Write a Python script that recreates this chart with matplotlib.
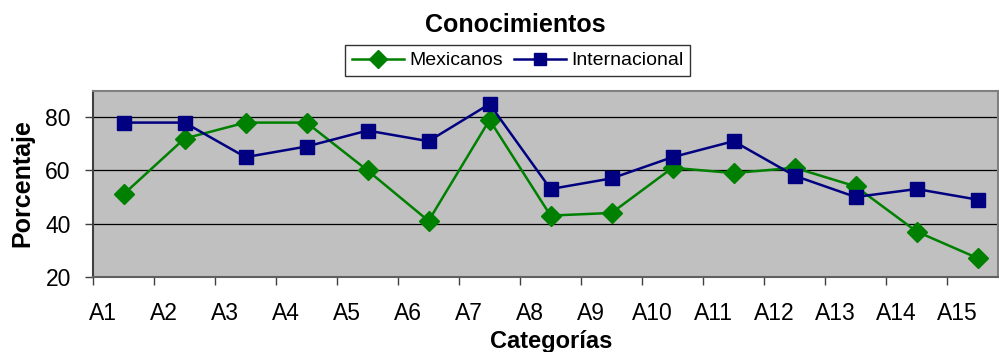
import numpy as np
import matplotlib.pyplot as plt

plt.rcParams['font.family'] = ['Liberation Sans', 'DejaVu Sans']

categorias = ['A1', 'A2', 'A3', 'A4', 'A5', 'A6', 'A7', 'A8', 'A9', 'A10',
              'A11', 'A12', 'A13', 'A14', 'A15']
mexicanos = [51, 72, 78, 78, 60, 41, 79, 43, 44, 61, 59, 61, 54, 37, 27]
internacional = [78, 78, 65, 69, 75, 71, 85, 53, 57, 65, 71, 58, 50, 53, 49]

x = np.arange(len(categorias))

fig = plt.figure(figsize=(9.99, 3.52), dpi=100)
ax = fig.add_axes([0.0931, 0.2139, 0.906, 0.5284])
ax.set_facecolor('#C0C0C0')

l1, = ax.plot(x, mexicanos, color='#008000', lw=1.8, marker='D', ms=10,
              markeredgecolor='#008000', label='Mexicanos', zorder=3)
l2, = ax.plot(x, internacional, color='#000080', lw=1.8, marker='s', ms=10,
              markeredgecolor='#000080', label='Internacional', zorder=3)

ax.set_ylim(20, 90)
ax.set_xlim(-0.5, -0.5 + 905 / 61)
ax.set_yticks([20, 40, 60, 80])
for v in [40, 60, 80]:
    ax.axhline(v, color='black', lw=0.9, zorder=1)

# marcas en los limites de categoria, etiquetas desplazadas
ax.set_xticks(x - 0.5)
ax.set_xticklabels([])
ax.set_xticks(x - 0.5 + 10 / 61, minor=True)
ax.set_xticklabels(categorias, minor=True)
ax.tick_params(axis='x', which='major', length=6, width=1, color='#404040')
ax.tick_params(axis='x', which='minor', length=0, pad=18, labelsize=16.5)
ax.tick_params(axis='y', length=6, width=1, color='#404040', pad=10,
               labelsize=16.5)

for s in ['top', 'right']:
    ax.spines[s].set_color('#808080')
    ax.spines[s].set_linewidth(1.5)
ax.spines['left'].set_color('#404040')
ax.spines['bottom'].set_color('#606060')
ax.spines['left'].set_linewidth(1.5)
ax.spines['bottom'].set_linewidth(1.5)

fig.text(0.516, 0.928, 'Conocimientos', ha='center', va='center',
         fontsize=18, fontweight='bold')
fig.text(0.022, 0.48, 'Porcentaje', ha='center', va='center', rotation=90,
         fontsize=18, fontweight='bold')
fig.text(0.552, 0.03, 'Categorías', ha='center', va='center',
         fontsize=17, fontweight='bold')

leg = fig.legend(handles=[l1, l2], loc='center', bbox_to_anchor=(0.518, 0.828),
                 ncol=2, fontsize=14, frameon=True, fancybox=False,
                 edgecolor='black', handlelength=2.7, handletextpad=0.25,
                 columnspacing=0.55, borderpad=0.35, borderaxespad=0,
                 markerscale=0.9)
leg.get_frame().set_linewidth(1.0)

fig.savefig('out.png', dpi=100)
